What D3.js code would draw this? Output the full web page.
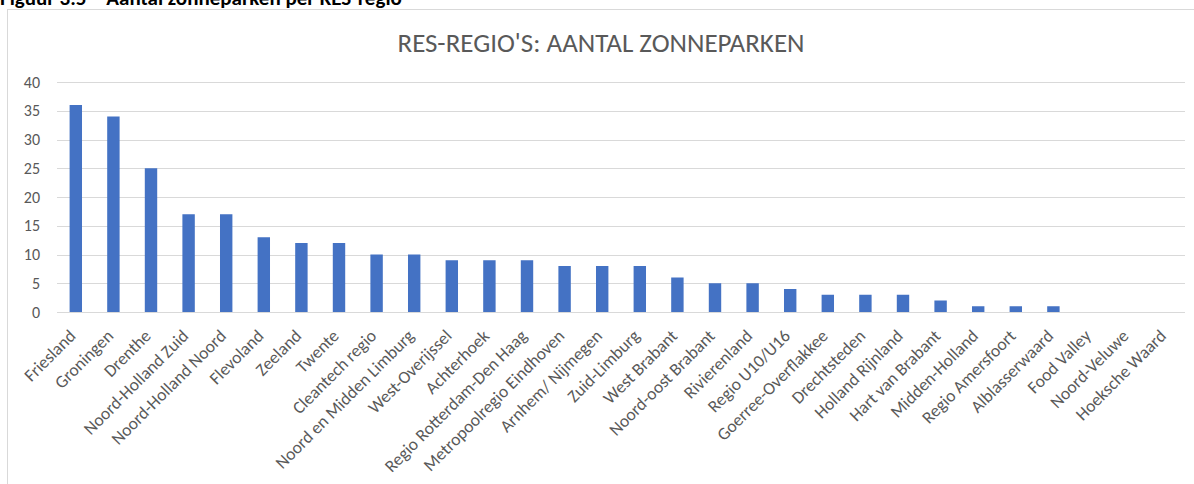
<!DOCTYPE html>
<html>
<head>
<meta charset="utf-8">
<script src="https://cdn.jsdelivr.net/npm/d3@7"></script>
<style>
  body { margin: 0; background: #fff; }
  svg { display: block; }
</style>
</head>
<body>
<div id="chart"></div>
<script>
// region names and number of solar parks per region
var regions = ["Friesland", "Groningen", "Drenthe", "Noord-Holland Zuid", "Noord-Holland Noord",
    "Flevoland", "Zeeland", "Twente", "Cleantech regio", "Noord en Midden Limburg",
    "West-Overijssel", "Achterhoek", "Regio Rotterdam-Den Haag", "Metropoolregio Eindhoven",
    "Arnhem/ Nijmegen", "Zuid-Limburg", "West Brabant", "Noord-oost Brabant", "Rivierenland",
    "Regio U10/U16", "Goerree-Overflakkee", "Drechtsteden", "Holland Rijnland", "Hart van Brabant",
    "Midden-Holland", "Regio Amersfoort", "Alblasserwaard", "Food Valley", "Noord-Veluwe",
    "Hoeksche Waard"];
var parks = [36, 34, 25, 17, 17, 13, 12, 12, 10, 10, 9, 9, 9, 8, 8, 8, 6, 5, 5, 4, 3, 3, 3, 2, 1, 1, 1, 0, 0, 0];
var yTicks = [0, 5, 10, 15, 20, 25, 30, 35, 40];

var W = 1194, H = 484;
var margin = {top: 82, right: 9, bottom: 172, left: 57};
var width = W - margin.left - margin.right;
var height = H - margin.top - margin.bottom;
var font = "Carlito, 'Open Sans', sans-serif";

var svg = d3.select("#chart").append("svg")
    .attr("width", W)
    .attr("height", H);

// figure caption, cut off at the top
svg.append("text")
    .attr("x", 0)
    .attr("y", 5)
    .style("font-family", font)
    .style("font-weight", "bold")
    .style("font-size", "21px")
    .style("fill", "#000")
    .text("Figuur 3.5 \u2013 Aantal zonneparken per RES-regio");

// chart frame (runs off right and bottom)
svg.append("rect")
    .attr("x", 7.5)
    .attr("y", 9.5)
    .attr("width", W)
    .attr("height", H)
    .style("fill", "#fff")
    .style("stroke", "#d9d9d9");

svg.append("text")
    .attr("x", 601)
    .attr("y", 52)
    .attr("text-anchor", "middle")
    .style("font-family", font)
    .style("font-size", "27px")
    .style("fill", "#595959")
    .text("RES-REGIO'S: AANTAL ZONNEPARKEN");

var g = svg.append("g")
    .attr("transform", "translate(" + margin.left + "," + margin.top + ")");

var x = d3.scaleBand().domain(regions).range([0, width]).paddingInner(0.67).paddingOuter(0.335);
var y = d3.scaleLinear().domain([0, 40]).range([height, 0]);

// gridlines
g.selectAll(".grid")
    .data(yTicks)
    .enter().append("line")
    .attr("x1", 0)
    .attr("x2", width)
    .attr("y1", function(d) { return Math.round(y(d)) + 0.5; })
    .attr("y2", function(d) { return Math.round(y(d)) + 0.5; })
    .style("stroke", "#d9d9d9")
    .style("stroke-width", 1);

// y axis labels
var yAxis = d3.axisLeft(y).tickValues(yTicks).tickSize(0).tickPadding(17);
g.append("g")
    .call(yAxis)
    .call(function(a) { a.select(".domain").remove(); })
    .selectAll("text")
    .style("font-family", font)
    .style("font-size", "16px")
    .style("fill", "#595959");

// bars
g.selectAll(".bar")
    .data(parks)
    .enter().append("rect")
    .attr("class", "bar")
    .attr("x", function(d, i) { return x(regions[i]); })
    .attr("width", x.bandwidth())
    .attr("y", function(d) { return y(d); })
    .attr("height", function(d) { return height - y(d); })
    .style("fill", "#4472c4");

// x axis labels, rotated
var xAxis = d3.axisBottom(x).tickSize(0).tickPadding(0);
g.append("g")
    .attr("transform", "translate(0," + height + ")")
    .call(xAxis)
    .call(function(a) { a.select(".domain").remove(); })
    .selectAll("text")
    .attr("y", 0)
    .attr("dy", 0)
    .attr("text-anchor", "end")
    .attr("transform", "translate(1,25) rotate(-45)")
    .style("font-family", font)
    .style("font-size", "17.5px")
    .style("fill", "#595959");
</script>
</body>
</html>
